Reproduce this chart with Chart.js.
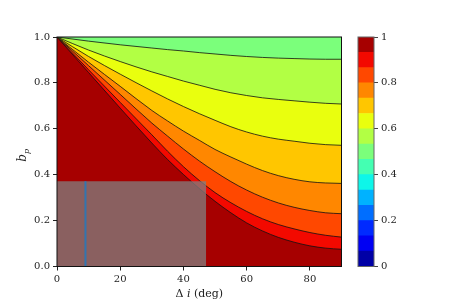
<!DOCTYPE html>
<html>
<head>
<meta charset="utf-8">
<script src="https://cdn.jsdelivr.net/npm/chart.js@4/dist/chart.umd.min.js"></script>
<style>
  body { margin: 0; background: #fff; }
  #wrap { position: relative; width: 458px; height: 305px; }
  canvas { position: absolute; left: 0; top: 0; }
</style>
</head>
<body>
<div id="wrap">
  <canvas id="mainChart" width="458" height="305"></canvas>
  <canvas id="barChart" width="458" height="305"></canvas>
</div>
<script>
// contour lines (x = delta i in deg, y = b_p)
const gridX = [0, 10, 20, 30, 35, 40, 45, 50, 55, 60, 65, 70, 75, 80, 85, 90];
const c1Y = [1, 0.982, 0.966, 0.952, 0.945, 0.939, 0.932, 0.926, 0.92, 0.915, 0.911, 0.908, 0.906, 0.904, 0.903, 0.903];
const c2Y = [1, 0.943, 0.893, 0.848, 0.828, 0.808, 0.79, 0.772, 0.757, 0.745, 0.735, 0.728, 0.722, 0.716, 0.711, 0.708];
const c3Y = [1, 0.915, 0.838, 0.765, 0.73, 0.697, 0.666, 0.637, 0.609, 0.586, 0.568, 0.555, 0.546, 0.537, 0.531, 0.528];
const c4Y = [1, 0.89, 0.785, 0.68, 0.634, 0.59, 0.55, 0.51, 0.477, 0.446, 0.418, 0.396, 0.38, 0.369, 0.364, 0.362];
const c5Y = [1, 0.875, 0.75, 0.625, 0.568, 0.512, 0.46, 0.413, 0.37, 0.333, 0.302, 0.277, 0.258, 0.244, 0.234, 0.23];
const c6Y = [1, 0.857, 0.715, 0.574, 0.502, 0.435, 0.375, 0.322, 0.278, 0.24, 0.208, 0.183, 0.164, 0.148, 0.136, 0.128];
const c7Y = [1, 0.845, 0.69, 0.538, 0.466, 0.401, 0.34, 0.284, 0.234, 0.19, 0.155, 0.127, 0.106, 0.09, 0.08, 0.075];

// shaded box and vertical marker
const boxX = [0, 47.2];
const boxY = [0.372, 0.372];
const markX = [9, 9];
const markY = [0, 0.372];

// colour bar levels (15 bands, jet)
const cbLevels = [0, 1/15, 2/15, 3/15, 4/15, 5/15, 6/15, 7/15, 8/15, 9/15, 10/15, 11/15, 12/15, 13/15, 14/15, 1];
const cbColors = ['#0000a6', '#0000f3', '#002aff', '#006eff', '#00b2ff', '#0ef6e9', '#44ffb2', '#7bff7b',
                  '#b2ff44', '#e9ff0e', '#ffc600', '#ff8700', '#ff4800', '#f30900', '#a60000'];
const cbTicks = [0, 0.2, 0.4, 0.6, 0.8, 1];
const cbTickLabels = ['0', '0.2', '0.4', '0.6', '0.8', '1'];

const xTicks = [0, 20, 40, 60, 80];
const yTicks = [0, 0.2, 0.4, 0.6, 0.8, 1.0];

Chart.defaults.font.family = 'DejaVu Serif';
Chart.defaults.font.size = 10;
Chart.defaults.color = '#222';

function pts(xs, ys) {
    return xs.map((x, i) => ({ x: x, y: ys[i] }));
}

function contour(ys, color) {
    return {
        data: pts(gridX, ys),
        borderColor: '#111',
        borderWidth: 0.8,
        backgroundColor: color,
        fill: 'end',
        pointRadius: 0,
        cubicInterpolationMode: 'monotone'
    };
}

// dark red under everything, frame on top
const areaPlugin = {
    id: 'areaPlugin',
    beforeDatasetsDraw(chart, args, opts) {
        const { ctx, chartArea: a } = chart;
        ctx.save();
        ctx.fillStyle = opts.fill;
        ctx.fillRect(a.left, a.top, a.right - a.left, a.bottom - a.top);
        ctx.restore();
    },
    afterDatasetsDraw(chart, args, opts) {
        const { ctx, chartArea: a } = chart;
        ctx.save();
        ctx.strokeStyle = opts.stroke;
        ctx.lineWidth = 1;
        ctx.strokeRect(a.left, a.top, a.right - a.left, a.bottom - a.top);
        ctx.restore();
    }
};

// axis titles with italic pieces
const titlePlugin = {
    id: 'titlePlugin',
    afterDraw(chart) {
        const { ctx, chartArea: a } = chart;
        ctx.save();
        ctx.fillStyle = '#222';
        ctx.textBaseline = 'alphabetic';
        const parts = [['Δ ', 'normal'], ['i', 'italic'], [' (deg)', 'normal']];
        let total = 0;
        parts.forEach(p => {
            ctx.font = p[1] + ' 11px DejaVu Serif';
            total += ctx.measureText(p[0]).width;
        });
        let x = (a.left + a.right) / 2 - total / 2;
        parts.forEach(p => {
            ctx.font = p[1] + ' 11px DejaVu Serif';
            ctx.fillText(p[0], x, 297);
            x += ctx.measureText(p[0]).width;
        });

        ctx.translate(26, (a.top + a.bottom) / 2 + 4);
        ctx.rotate(-Math.PI / 2);
        ctx.font = 'italic 12px DejaVu Serif';
        ctx.fillText('b', -6, 0);
        const wb = ctx.measureText('b').width;
        ctx.font = 'italic 8px DejaVu Serif';
        ctx.fillText('p', -6 + wb, 3);
        ctx.restore();
    }
};

new Chart(document.getElementById('mainChart'), {
    type: 'line',
    data: {
        datasets: [
            { data: pts(markX, markY), borderColor: 'rgba(40,120,185,0.9)', borderWidth: 2, pointRadius: 0, fill: false },
            { data: pts(boxX, boxY), borderWidth: 0, borderColor: 'rgba(0,0,0,0)', backgroundColor: 'rgba(128,128,128,0.75)', fill: 'start', pointRadius: 0 },
            contour(c1Y, cbColors[7]),
            contour(c2Y, cbColors[8]),
            contour(c3Y, cbColors[9]),
            contour(c4Y, cbColors[10]),
            contour(c5Y, cbColors[11]),
            contour(c6Y, cbColors[12]),
            contour(c7Y, cbColors[13])
        ]
    },
    options: {
        responsive: false,
        animation: false,
        layout: { padding: { left: 0, top: 37, right: 116.5, bottom: 0 } },
        plugins: {
            legend: { display: false },
            tooltip: { enabled: false },
            areaPlugin: { fill: cbColors[14], stroke: '#111' }
        },
        scales: {
            x: {
                type: 'linear',
                min: 0,
                max: 90,
                afterBuildTicks: s => { s.ticks = xTicks.map(v => ({ value: v })); },
                afterFit: s => { s.height = 38.5; },
                ticks: { padding: 3, maxRotation: 0 },
                grid: { drawOnChartArea: false, drawTicks: true, tickLength: 4, color: '#222' },
                border: { color: '#111' }
            },
            y: {
                min: 0,
                max: 1,
                afterBuildTicks: s => { s.ticks = yTicks.map(v => ({ value: v })); },
                afterFit: s => { s.width = 57; },
                ticks: { padding: 3, callback: v => v.toFixed(1) },
                grid: { drawOnChartArea: false, drawTicks: true, tickLength: 4, color: '#222' },
                border: { color: '#111' }
            }
        }
    },
    plugins: [areaPlugin, titlePlugin]
});

// colour bar
const cbDatasets = cbColors.map((c, i) => ({
    data: [cbLevels[i + 1] - cbLevels[i]],
    backgroundColor: c,
    borderWidth: 0,
    barPercentage: 1,
    categoryPercentage: 1
}));

const cbFrame = {
    id: 'cbFrame',
    afterDatasetsDraw(chart) {
        const { ctx, chartArea: a } = chart;
        ctx.save();
        ctx.strokeStyle = '#666';
        ctx.lineWidth = 1;
        ctx.strokeRect(a.left, a.top, a.right - a.left, a.bottom - a.top);
        ctx.restore();
    }
};

new Chart(document.getElementById('barChart'), {
    type: 'bar',
    data: { labels: [''], datasets: cbDatasets },
    options: {
        responsive: false,
        animation: false,
        layout: { padding: { left: 358, top: 37, right: 0, bottom: 38.5 } },
        plugins: { legend: { display: false }, tooltip: { enabled: false } },
        scales: {
            x: { stacked: true, display: false },
            y: {
                stacked: true,
                position: 'right',
                min: 0,
                max: 1,
                afterBuildTicks: s => { s.ticks = cbTicks.map(v => ({ value: v })); },
                afterFit: s => { s.width = 84; },
                ticks: { padding: 3, callback: (v, i) => cbTickLabels[i] },
                grid: { drawOnChartArea: false, drawTicks: true, tickLength: 4, color: '#444' },
                border: { display: false }
            }
        }
    },
    plugins: [cbFrame]
});
</script>
</body>
</html>
